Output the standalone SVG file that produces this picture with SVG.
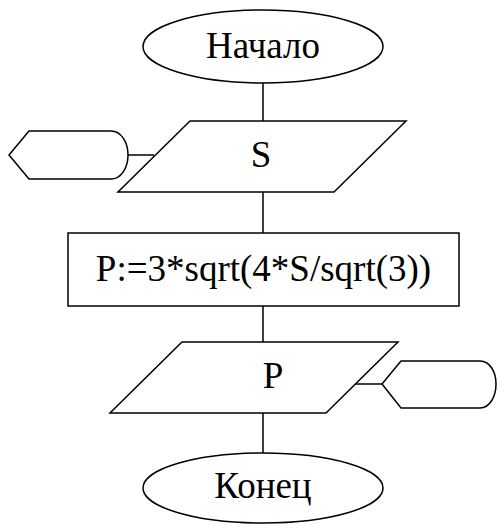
<svg xmlns="http://www.w3.org/2000/svg" width="497" height="524" viewBox="0 0 497 524">
<style>
.s{fill:#fff;stroke:#000;stroke-width:1.5}
.c{fill:none;stroke:#000;stroke-width:1.5}
.t{font-family:'Liberation Serif','Times New Roman',serif;font-size:37px;fill:#000;text-anchor:middle}
</style>
<rect width="497" height="524" fill="#fff"/>
<g id="connectors">
<line class="c" x1="263" y1="83" x2="263" y2="121"/>
<line class="c" x1="263" y1="192" x2="263" y2="233"/>
<line class="c" x1="263" y1="306" x2="263" y2="342"/>
<line class="c" x1="263" y1="413" x2="263" y2="453"/>
<line class="c" x1="128" y1="155" x2="154" y2="155"/>
<line class="c" x1="352" y1="384" x2="382" y2="384"/>
</g>
<g id="start">
<ellipse class="s" cx="263" cy="46.5" rx="120" ry="36.5"/>
<text class="t" x="263" y="58">Начало</text>
</g>
<g id="inputS">
<polygon class="s" points="190,121 406,121 334,192 118,192"/>
<text class="t" x="261" y="167">S</text>
</g>
<g id="inputDevice">
<path class="s" d="M9,155 L29,131 L111,131 C121,131 128,142 128,155 C128,168 121,179 111,179 L29,179 Z"/>
</g>
<g id="process">
<rect class="s" x="68" y="233" width="391" height="73"/>
<text class="t" x="263.5" y="281">P:=3*sqrt(4*S/sqrt(3))</text>
</g>
<g id="outputP">
<polygon class="s" points="182,342 398,342 326,413 110,413"/>
<text class="t" x="273" y="388">P</text>
</g>
<g id="outputDevice">
<path class="s" d="M382,384 L401,361 L480,361 C490,361 496,372 496,384 C496,396 490,408 480,408 L401,408 Z"/>
</g>
<g id="end">
<ellipse class="s" cx="263" cy="488" rx="120" ry="35"/>
<text class="t" x="263" y="498">Конец</text>
</g>
</svg>
